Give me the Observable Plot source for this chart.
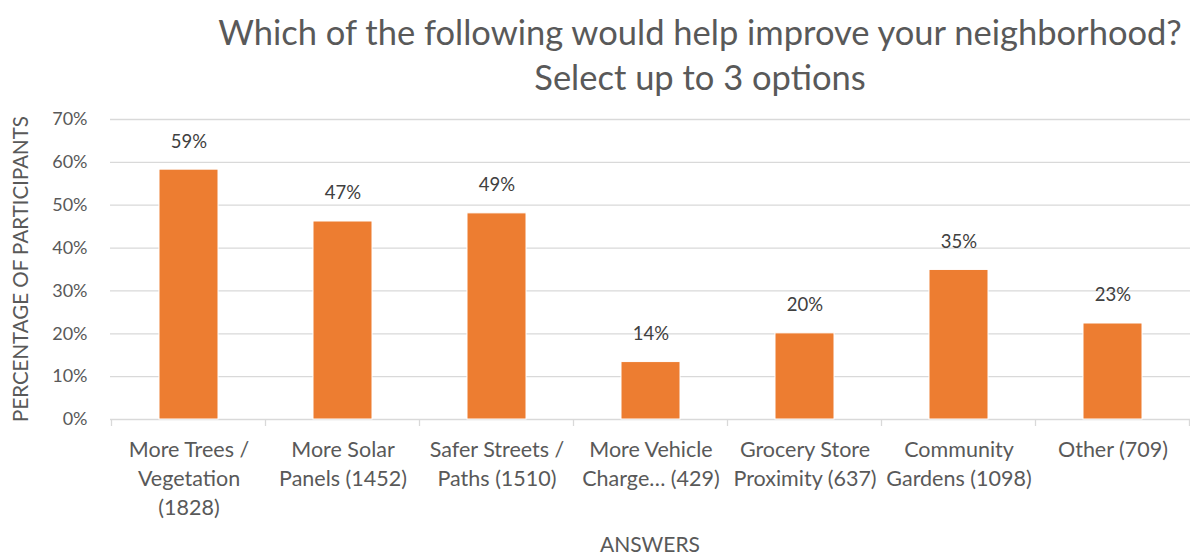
<!DOCTYPE html>
<html>
<head>
<meta charset="utf-8">
<script src="https://cdn.jsdelivr.net/npm/d3@7"></script>
<script src="https://cdn.jsdelivr.net/npm/@observablehq/plot@0.6"></script>
<style>
  html, body { margin: 0; padding: 0; background: #fff; }
  #wrap { position: relative; width: 1190px; height: 556px; font-family: Lato, "Open Sans", sans-serif; color: #595959; }
  #title { position: absolute; left: 200px; width: 1000px; top: 9px; text-align: center; font-size: 34.5px; line-height: 45px; }
  #ylab { position: absolute; left: 20px; top: 269px; transform: translate(-50%, -50%) rotate(-90deg); white-space: nowrap; font-size: 20.5px; line-height: 1; }
  #xlab { position: absolute; left: 650px; top: 543px; transform: translate(-50%, -50%); white-space: nowrap; font-size: 21px; line-height: 1; }
</style>
</head>
<body>
<div id="wrap">
  <div id="chart"></div>
  <div id="title">Which of the following would help improve your neighborhood?<br>Select up to 3 options</div>
  <div id="ylab">PERCENTAGE OF PARTICIPANTS</div>
  <div id="xlab">ANSWERS</div>
</div>
<script>
const categories = [
  "More Trees /\nVegetation\n(1828)",
  "More Solar\nPanels (1452)",
  "Safer Streets /\nPaths (1510)",
  "More Vehicle\nCharge… (429)",
  "Grocery Store\nProximity (637)",
  "Community\nGardens (1098)",
  "Other (709)"
];
const values = [0.583, 0.462, 0.481, 0.134, 0.201, 0.349, 0.224];
const valueLabels = ["59%", "47%", "49%", "14%", "20%", "35%", "23%"];
const yTicks = [0, 0.1, 0.2, 0.3, 0.4, 0.5, 0.6, 0.7];

const data = categories.map((c, i) => ({cat: c, value: values[i], label: valueLabels[i]}));

const plot = Plot.plot({
  width: 1190,
  height: 556,
  marginLeft: 110,
  marginRight: 0,
  marginTop: 119,
  marginBottom: 137,
  style: {fontFamily: "Lato, 'Open Sans', sans-serif", fontSize: "19px", color: "#595959", background: "transparent", overflow: "visible"},
  x: {domain: categories, paddingInner: 0.62, paddingOuter: 0.31, label: null},
  y: {domain: [0, 0.7], label: null},
  marks: [
    Plot.gridY(yTicks, {stroke: "#d9d9d9", strokeOpacity: 1, strokeWidth: 1.3}),
    Plot.barY(data, {x: "cat", y: "value", fill: "#ED7D31", stroke: "#fff", strokeWidth: 1}),
    Plot.text(data, {x: "cat", y: "value", text: "label", dy: -28, fontSize: 18.5, fill: "#404040"}),
    Plot.axisY(yTicks, {tickFormat: d3.format(".0%"), tickSize: 0, tickPadding: 23, fontSize: 18, fill: "#595959", label: null}),
    Plot.axisX({tickSize: 0, tickPadding: 17, lineHeight: 1.35, fontSize: 21.5, fill: "#595959", label: null})
  ]
});
document.getElementById("chart").appendChild(plot);

// category boundary ticks on the bottom axis, from Plot's own x and y scales
const xs = plot.scale("x");
const ys = plot.scale("y");
const y0 = ys.apply(0);
const gap = xs.step - xs.bandwidth;
const bounds = categories.map(c => xs.apply(c) - gap / 2);
bounds.push(xs.apply(categories[categories.length - 1]) + xs.bandwidth + gap / 2);
const svg = d3.select(plot.tagName.toLowerCase() === "svg" ? plot : plot.querySelector("svg"));
svg.append("g")
  .attr("stroke", "#d9d9d9").attr("stroke-width", 1.3)
  .selectAll("line").data(bounds).join("line")
  .attr("x1", d => d).attr("x2", d => d)
  .attr("y1", y0).attr("y2", y0 + 7);
</script>
</body>
</html>
